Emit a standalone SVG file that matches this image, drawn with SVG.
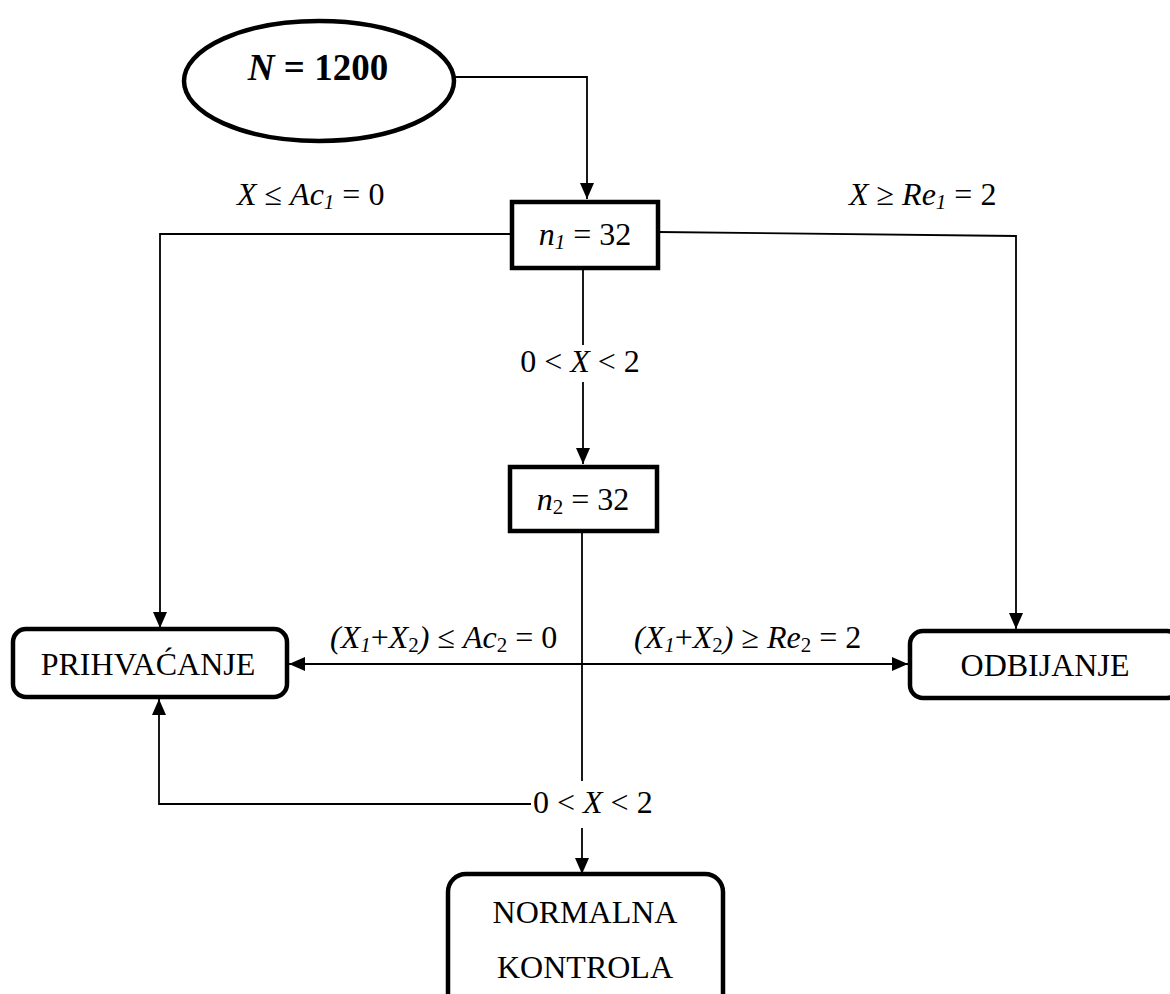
<svg xmlns="http://www.w3.org/2000/svg" width="1170" height="994" viewBox="0 0 1170 994">
<style>
text{font-family:"Liberation Serif","Times New Roman",serif;fill:#000}
.lbl{font-size:32px}
.nd{font-size:32px}
.it{font-style:italic}
.sub{font-size:21px}
.box{fill:#fff;stroke:#000;stroke-width:4.5}
.con{fill:none;stroke:#000;stroke-width:1.8}
</style>
<defs>
<marker id="ah" viewBox="0 0 16 14" refX="16" refY="7" markerWidth="16" markerHeight="14" markerUnits="userSpaceOnUse" orient="auto-start-reverse">
<path d="M0,0 L16,7 L0,14 z" fill="#000"/>
</marker>
</defs>
<rect width="1170" height="994" fill="#fff"/>
<g id="connectors">
<polyline class="con" points="454,77 587,77 587,199" marker-end="url(#ah)"/>
<polyline class="con" points="512,234 160,234 160,628" marker-end="url(#ah)"/>
<polyline class="con" points="658,232 1016,236 1016,629" marker-end="url(#ah)"/>
<line class="con" x1="583" y1="268" x2="583" y2="345"/>
<line class="con" x1="583" y1="382" x2="583" y2="464" marker-end="url(#ah)"/>
<line class="con" x1="582" y1="531" x2="582" y2="781"/>
<line class="con" x1="582" y1="828" x2="582" y2="874" marker-end="url(#ah)"/>
<line class="con" x1="289" y1="664" x2="908" y2="664" marker-start="url(#ah)" marker-end="url(#ah)"/>
<polyline class="con" points="531,804 159,804 159,699" marker-end="url(#ah)"/>
<text class="lbl" x="237" y="205"><tspan class="it">X</tspan> ≤ <tspan class="it">Ac</tspan><tspan class="it sub" dy="4">1</tspan><tspan dy="-4"> = 0</tspan></text>
<text class="lbl" x="849" y="205"><tspan class="it">X</tspan> ≥ <tspan class="it">Re</tspan><tspan class="it sub" dy="4">1</tspan><tspan dy="-4"> = 2</tspan></text>
<text class="lbl" x="580" y="372" text-anchor="middle">0 &lt; <tspan class="it">X</tspan> &lt; 2</text>
<text class="lbl it" x="330" y="648">(X<tspan class="sub" dy="4">1</tspan><tspan dy="-4" font-style="normal">+</tspan>X<tspan class="sub" dy="4" font-style="normal">2</tspan><tspan dy="-4">)</tspan><tspan font-style="normal"> ≤ </tspan>Ac<tspan class="sub" dy="4" font-style="normal">2</tspan><tspan dy="-4" font-style="normal"> = 0</tspan></text>
<text class="lbl it" x="634" y="648">(X<tspan class="sub" dy="4">1</tspan><tspan dy="-4" font-style="normal">+</tspan>X<tspan class="sub" dy="4" font-style="normal">2</tspan><tspan dy="-4">)</tspan><tspan font-style="normal"> ≥ </tspan>Re<tspan class="sub" dy="4" font-style="normal">2</tspan><tspan dy="-4" font-style="normal"> = 2</tspan></text>
<text class="lbl" x="533" y="813">0 &lt; <tspan class="it">X</tspan> &lt; 2</text>
</g>
<g id="start">
<ellipse cx="319" cy="81" rx="135" ry="60" fill="#fff" stroke="#000" stroke-width="4.5"/>
<text x="318" y="80" text-anchor="middle" font-size="37" font-weight="bold"><tspan class="it">N</tspan> = 1200</text>
</g>
<g id="n1">
<rect class="box" x="512" y="202" width="146" height="66"/>
<text class="nd" x="585" y="245" text-anchor="middle"><tspan class="it">n</tspan><tspan class="it sub" dy="4">1</tspan><tspan dy="-4"> = 32</tspan></text>
</g>
<g id="n2">
<rect class="box" x="510" y="467" width="147" height="64"/>
<text class="nd" x="583" y="510" text-anchor="middle"><tspan class="it">n</tspan><tspan class="sub" dy="4">2</tspan><tspan dy="-4"> = 32</tspan></text>
</g>
<g id="prihvacanje">
<rect class="box" x="13" y="629" width="274" height="68" rx="13"/>
<text class="nd" x="148" y="675" text-anchor="middle">PRIHVAĆANJE</text>
</g>
<g id="odbijanje">
<rect class="box" x="910" y="631" width="270" height="67" rx="13"/>
<text class="nd" x="1045" y="676" text-anchor="middle">ODBIJANJE</text>
</g>
<g id="normalna">
<rect class="box" x="448" y="874" width="275" height="140" rx="18"/>
<text class="nd" x="585" y="923" text-anchor="middle">NORMALNA</text>
<text class="nd" x="585" y="978" text-anchor="middle">KONTROLA</text>
</g>
</svg>
